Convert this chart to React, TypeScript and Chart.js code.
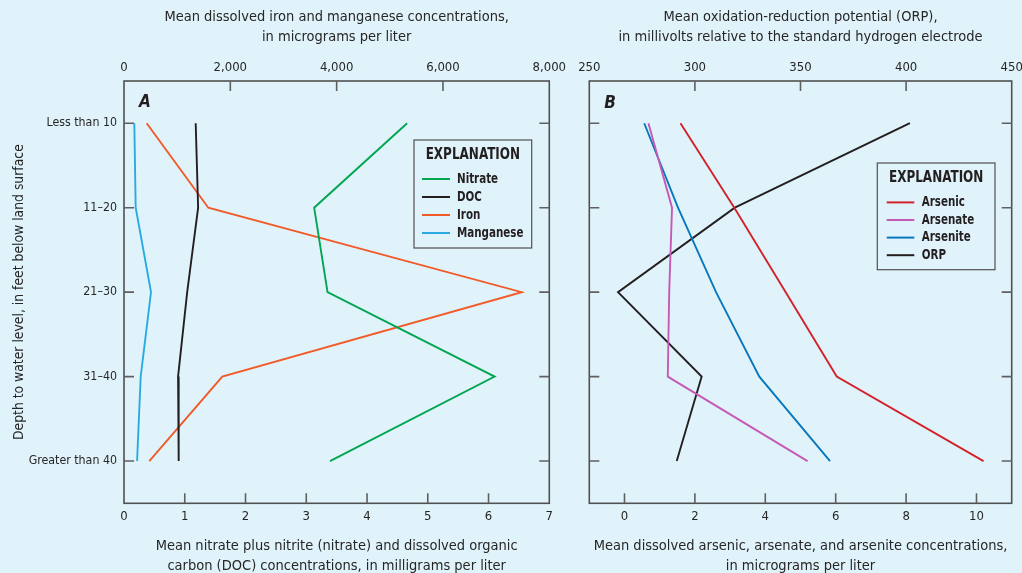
import React, { useEffect, useRef } from "react";
import { Chart, registerables } from "chart.js";

Chart.register(...registerables);

// ---------- data ----------
const depthCategories = ["Less than 10", "11–20", "21–30", "31–40", "Greater than 40"];

// Panel A (mg/L on bottom axis, µg/L on top axis)
const nitrate = [4.66, 3.13, 3.35, 6.1, 3.39];
const doc = [1.18, 1.22, 1.04, 0.89, 0.9];
const iron = [427, 1586, 7480, 1849, 476];
const manganese = [194, 220, 508, 314, 246];

// Panel B (µg/L on bottom axis, mV on top axis)
const arsenic = [1.59, 3.12, 4.58, 6.03, 10.2];
const arsenate = [0.68, 1.35, 1.27, 1.23, 5.2];
const arsenite = [0.56, 1.52, 2.6, 3.83, 5.84];
const orp = [401.8, 318.9, 263.6, 303.2, 291.4];

const nitrateTicks = [0, 1, 2, 3, 4, 5, 6, 7];
const ironTicks = [0, 2000, 4000, 6000, 8000];
const arsenicTicks = [0, 2, 4, 6, 8, 10];
const orpTicks = [250, 300, 350, 400, 450];
const depthTicks = [0, 1, 2, 3, 4];

// ---------- style ----------
const BG = "#e1f3fa";
const TEXT = "#262626";
const AXIS_COLOR = "#505050";
const TICK_COLOR = "#606060";
const TICK_LEN = 10;
const FONT = "'Liberation Sans Narrow', 'DejaVu Sans Condensed', 'Arial Narrow', sans-serif";

const C_NITRATE = "#00a651";
const C_DOC = "#231f20";
const C_IRON = "#f15a29";
const C_MN = "#29abe2";
const C_ARSENIC = "#d2232a";
const C_ARSENATE = "#c559b6";
const C_ARSENITE = "#0877bc";
const C_ORP = "#231f20";

Chart.defaults.font.family = FONT;
Chart.defaults.color = TEXT;

const toPoints = (vals: number[]) => vals.map((v, i) => ({ x: v, y: i }));
const setTicks = (values: number[]) => (scale: any) => {
  scale.ticks = values.map((v) => ({ value: v }));
};
const fmt = (v: any) => Number(v).toLocaleString("en-US");

function squeezedText(ctx: any, text: string, x: number, y: number, sx: number, align: string) {
  ctx.save();
  ctx.translate(x, y);
  ctx.scale(sx, 1);
  ctx.textAlign = align;
  ctx.fillText(text, 0, 0);
  ctx.restore();
}

const decorPlugin = {
  id: "decor",
  afterDatasetsDraw(chart: any, _args: any, opts: any) {
    const { ctx, chartArea: a } = chart;
    ctx.save();
    // frame
    ctx.strokeStyle = AXIS_COLOR;
    ctx.lineWidth = 1.6;
    ctx.strokeRect(a.left, a.top, a.right - a.left, a.bottom - a.top);
    // inward tick marks
    ctx.strokeStyle = TICK_COLOR;
    ctx.lineWidth = 1.6;
    ctx.beginPath();
    for (const id of Object.keys(chart.scales)) {
      const s = chart.scales[id];
      for (const t of s.ticks) {
        const p = s.getPixelForValue(t.value);
        if (s.isHorizontal()) {
          if (p < a.left + 2 || p > a.right - 2) continue;
          if (s.position === "top") {
            ctx.moveTo(p, a.top);
            ctx.lineTo(p, a.top + TICK_LEN);
          } else {
            ctx.moveTo(p, a.bottom);
            ctx.lineTo(p, a.bottom - TICK_LEN);
          }
        } else {
          if (p < a.top + 2 || p > a.bottom - 2) continue;
          ctx.moveTo(a.left, p);
          ctx.lineTo(a.left + TICK_LEN, p);
          ctx.moveTo(a.right, p);
          ctx.lineTo(a.right - TICK_LEN, p);
        }
      }
    }
    ctx.stroke();
    // panel letter
    ctx.fillStyle = "#231f20";
    ctx.font = `italic bold 17px ${FONT}`;
    ctx.textBaseline = "middle";
    squeezedText(ctx, opts.letter, a.left + opts.letterDx, a.top + opts.letterDy, 1, "left");
    // legend
    const lg = opts.legend;
    const x0 = a.left + lg.x;
    const y0 = a.top + lg.y;
    ctx.fillStyle = BG;
    ctx.fillRect(x0, y0, lg.w, lg.h);
    ctx.strokeStyle = AXIS_COLOR;
    ctx.lineWidth = 1.2;
    ctx.strokeRect(x0, y0, lg.w, lg.h);
    ctx.fillStyle = "#231f20";
    ctx.font = `bold 15px ${FONT}`;
    squeezedText(ctx, "EXPLANATION", x0 + lg.w / 2, y0 + lg.titleDy, 0.89, "center");
    chart.data.datasets.forEach((ds: any, i: number) => {
      const y = y0 + lg.firstDy + i * lg.rowH;
      ctx.strokeStyle = ds.borderColor;
      ctx.lineWidth = 2;
      ctx.beginPath();
      ctx.moveTo(x0 + lg.lineX0, y);
      ctx.lineTo(x0 + lg.lineX1, y);
      ctx.stroke();
      ctx.fillStyle = "#231f20";
      ctx.font = `bold 14px ${FONT}`;
      squeezedText(ctx, ds.label, x0 + lg.textX, y, 0.82, "left");
    });
    ctx.restore();
  },
};

const titleFont = { size: 14.5, lineHeight: 1.38 };
const tickFont = { size: 13 };

function lineDs(label: string, color: string, vals: number[], xAxisID: string) {
  return {
    label,
    data: toPoints(vals),
    borderColor: color,
    backgroundColor: color,
    borderWidth: 1.9,
    pointRadius: 0,
    tension: 0,
    xAxisID,
    yAxisID: "y",
  };
}

function hAxis(position: "top" | "bottom", min: number, max: number, ticks: number[], title: string[], height: number, cb?: (v: any) => string) {
  return {
    type: "linear",
    position,
    min,
    max,
    afterBuildTicks: setTicks(ticks),
    afterFit: (s: any) => {
      s.height = height;
    },
    grid: { display: false, drawTicks: false },
    border: { display: false },
    ticks: {
      padding: 6,
      font: tickFont,
      color: TEXT,
      maxRotation: 0,
      autoSkip: false,
      callback: cb || ((v: any) => String(v)),
    },
    title: {
      display: true,
      text: title,
      font: titleFont,
      color: TEXT,
      padding: position === "top" ? { top: 7, bottom: 0 } : { top: 0, bottom: -3 },
    },
  };
}

function vAxis(width: number, showLabels: boolean) {
  return {
    type: "linear",
    position: "left",
    min: -0.5,
    max: 4.5,
    reverse: true,
    afterBuildTicks: setTicks(depthTicks),
    afterFit: (s: any) => {
      s.width = width;
    },
    grid: { display: false, drawTicks: false },
    border: { display: false },
    ticks: {
      display: showLabels,
      padding: 7,
      font: { size: 12.3 },
      color: TEXT,
      autoSkip: false,
      callback: (v: any) => depthCategories[Math.round(Number(v))] ?? "",
    },
    title: {
      display: showLabels,
      text: "Depth to water level, in feet below land surface",
      font: { size: 13.8, lineHeight: 1.3 },
      color: TEXT,
      padding: { top: 10, bottom: 0 },
    },
  };
}

const A_LEFT = 0;
const A_WIDTH = 575;
const B_LEFT = 562;
const B_WIDTH = 490;
const H = 573;

export default function App() {
  const refA = useRef<HTMLCanvasElement | null>(null);
  const refB = useRef<HTMLCanvasElement | null>(null);

  useEffect(() => {
    const chartA = new Chart(refA.current as HTMLCanvasElement, {
      type: "line",
      data: {
        datasets: [
          lineDs("Nitrate", C_NITRATE, nitrate, "xN"),
          lineDs("DOC", C_DOC, doc, "xN"),
          lineDs("Iron", C_IRON, iron, "xFe"),
          lineDs("Manganese", C_MN, manganese, "xFe"),
        ] as any,
      },
      options: {
        responsive: false,
        animation: false,
        layout: { padding: { left: 0, right: A_WIDTH - 549.3, top: 0, bottom: 0 } },
        plugins: {
          legend: { display: false },
          tooltip: { enabled: false },
          decor: {
            letter: "A",
            letterDx: 15,
            letterDy: 22,
            legend: { x: 290, y: 59, w: 117.7, h: 108, titleDy: 15, firstDy: 39, rowH: 18, lineX0: 8, lineX1: 36, textX: 43 },
          },
        } as any,
        scales: {
          xN: hAxis("bottom", 0, 7, nitrateTicks, [
            "Mean nitrate plus nitrite (nitrate) and dissolved organic",
            "carbon (DOC) concentrations, in milligrams per liter",
          ], H - 503.3),
          xFe: hAxis("top", 0, 8000, ironTicks, [
            "Mean dissolved iron and manganese concentrations,",
            "in micrograms per liter",
          ], 81, fmt),
          y: vAxis(124, true),
        } as any,
      },
      plugins: [decorPlugin],
    });

    const chartB = new Chart(refB.current as HTMLCanvasElement, {
      type: "line",
      data: {
        datasets: [
          lineDs("Arsenic", C_ARSENIC, arsenic, "xAs"),
          lineDs("Arsenate", C_ARSENATE, arsenate, "xAs"),
          lineDs("Arsenite", C_ARSENITE, arsenite, "xAs"),
          lineDs("ORP", C_ORP, orp, "xOrp"),
        ] as any,
      },
      options: {
        responsive: false,
        animation: false,
        layout: { padding: { left: 0, right: B_WIDTH - (1011.7 - B_LEFT), top: 0, bottom: 0 } },
        plugins: {
          legend: { display: false },
          tooltip: { enabled: false },
          decor: {
            letter: "B",
            letterDx: 15,
            letterDy: 23,
            legend: { x: 288, y: 82, w: 117.7, h: 106.7, titleDy: 15, firstDy: 39.4, rowH: 17.6, lineX0: 9.4, lineX1: 37, textX: 44.4 },
          },
        } as any,
        scales: {
          xAs: hAxis("bottom", -1, 11, arsenicTicks, [
            "Mean dissolved arsenic, arsenate, and arsenite concentrations,",
            "in micrograms per liter",
          ], H - 503.3),
          xOrp: hAxis("top", 250, 450, orpTicks, [
            "Mean oxidation-reduction potential (ORP),",
            "in millivolts relative to the standard hydrogen electrode",
          ], 81),
          y: vAxis(589.3 - B_LEFT, false),
        } as any,
      },
      plugins: [decorPlugin],
    });

    return () => {
      chartA.destroy();
      chartB.destroy();
    };
  }, []);

  return (
    <div style={{ position: "absolute", left: 0, top: 0, width: 1022, height: H, background: BG, overflow: "hidden" }}>
      <canvas
        ref={refA}
        width={A_WIDTH}
        height={H}
        style={{ position: "absolute", left: A_LEFT, top: 0, width: A_WIDTH, height: H }}
      />
      <canvas
        ref={refB}
        width={B_WIDTH}
        height={H}
        style={{ position: "absolute", left: B_LEFT, top: 0, width: B_WIDTH, height: H }}
      />
    </div>
  );
}
